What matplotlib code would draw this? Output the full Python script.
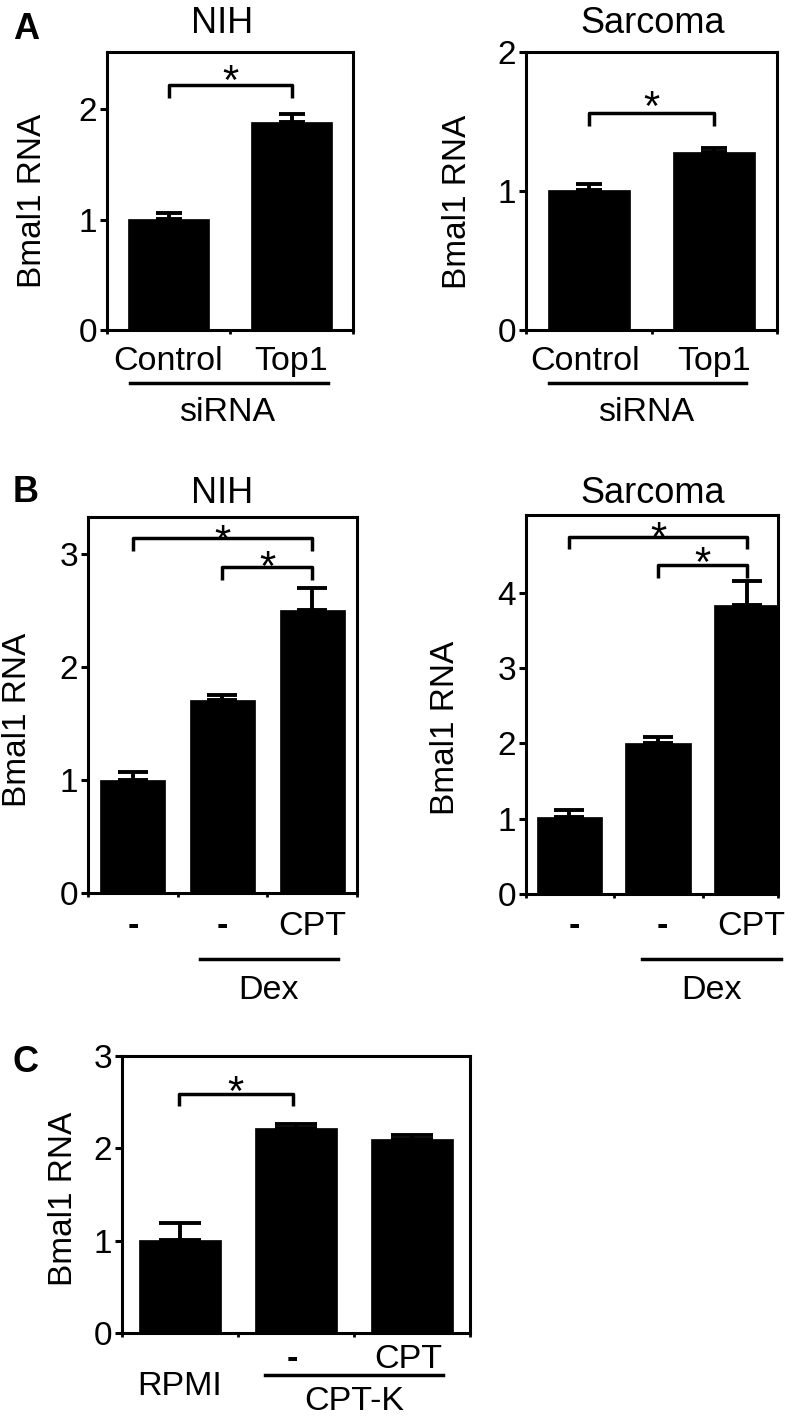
import numpy as np
import matplotlib
matplotlib.use('Agg')
import matplotlib.pyplot as plt
from matplotlib.transforms import blended_transform_factory

plt.rcParams['font.family'] = ['Liberation Sans', 'DejaVu Sans']

W, H = 800, 1416

# Panel A: siRNA knockdown
a_labels = ['Control', 'Top1']
a_nih = [1.01, 1.885]
a_nih_err = [0.05, 0.075]
a_sar = [1.01, 1.28]
a_sar_err = [0.04, 0.03]

# Panel B: Dex +/- CPT
b_labels = ['-', '-', 'CPT']
b_nih = [1.0, 1.705, 2.505]
b_nih_err = [0.075, 0.045, 0.2]
b_sar = [1.02, 2.0, 3.83]
b_sar_err = [0.09, 0.09, 0.33]

# Panel C: CPT-K medium
c_labels = ['RPMI', '-', 'CPT']
c_vals = [1.01, 2.22, 2.10]
c_err = [0.18, 0.04, 0.04]

LBL = 24.5   # category / group labels
TCK = 24     # tick labels
TTL = 26     # panel titles

fig = plt.figure(figsize=(W / 100, H / 100), dpi=100)


def add_box(l, r, t, b):
    return fig.add_axes([l / W, 1 - b / H, (r - l) / W, (b - t) / H])


def fy(ypx):
    return 1 - ypx / H


def bar_panel(ax, vals, errs, width, capsize, ylim, yticks, xlim, xticks):
    x = np.arange(len(vals))
    ax.bar(x, vals, width, color='black', edgecolor='black', linewidth=0.5)
    ax.errorbar(x, vals, yerr=[np.zeros(len(vals)), errs], fmt='none',
                ecolor='black', elinewidth=2.8, capsize=capsize, capthick=2.8)
    ax.set_ylim(*ylim)
    ax.set_yticks(yticks)
    ax.set_xlim(*xlim)
    ax.set_xticks(xticks)
    ax.set_xticklabels([])
    for s in ax.spines.values():
        s.set_linewidth(2.2)
    ax.tick_params(axis='y', direction='out', length=5, width=2.2,
                   labelsize=TCK, pad=2)
    ax.tick_params(axis='x', direction='out', length=3, width=2)


def bracket(ax, x0, x1, ytop, yleg, ystar):
    ax.plot([x0, x0, x1, x1], [yleg, ytop, ytop, yleg], color='black',
            lw=2.5, solid_capstyle='butt', clip_on=False)
    ax.annotate('*', xy=((x0 + x1) / 2, ystar), xytext=(0, -17),
                textcoords='offset points', ha='center', va='baseline',
                fontsize=30, annotation_clip=False)


def under(ax, x, ypx, s, size=LBL, weight='normal'):
    tr = blended_transform_factory(ax.transData, fig.transFigure)
    ax.text(x, fy(ypx), s, transform=tr, ha='center', va='baseline',
            fontsize=size, fontweight=weight, clip_on=False)


def cat(ax, x, ypx, s):
    # the dashes in the reference are heavy
    under(ax, x, ypx, s, weight='bold' if s == '-' else 'normal')


def group_line(ax, x0, x1, ypx):
    tr = blended_transform_factory(ax.transData, fig.transFigure)
    ax.plot([x0, x1], [fy(ypx), fy(ypx)], transform=tr, color='black',
            lw=2.5, clip_on=False)


def ylabel(xpx, ypx):
    fig.text(xpx / W, fy(ypx), 'Bmal1 RNA', rotation=90, ha='center',
             va='center', fontsize=24)


# ---- A, NIH
ax = add_box(107, 353, 52, 330)
bar_panel(ax, a_nih, a_nih_err, 0.66, 9.5, (0, 2.52), [0, 1, 2],
          (-0.5, 1.5), [-0.5, 0.5, 1.5])
bracket(ax, 0, 1, 2.22, 2.10, 2.35)
for i, s in enumerate(a_labels):
    cat(ax, i, 370, s)
group_line(ax, -0.31, 1.30, 383)
under(ax, 0.48, 421, 'siRNA')
ylabel(33, 201)
fig.text(222 / W, fy(33), 'NIH', ha='center', va='baseline', fontsize=TTL)

# ---- A, Sarcoma
ax = add_box(526, 777, 52, 330)
bar_panel(ax, a_sar, a_sar_err, 0.65, 9.5, (0, 2.0), [0, 1, 2],
          (-0.5, 1.5), [-0.5, 0.5, 1.5])
bracket(ax, 0, 1, 1.56, 1.47, 1.68)
for i, s in enumerate(a_labels):
    cat(ax, i - 0.03 if i == 0 else i, 370, s)
group_line(ax, -0.32, 1.25, 383)
under(ax, 0.46, 421, 'siRNA')
ylabel(457, 202)
fig.text(653 / W, fy(33), 'Sarcoma', ha='center', va='baseline', fontsize=TTL)

# ---- B, NIH
ax = add_box(88, 357, 517, 893)
bar_panel(ax, b_nih, b_nih_err, 0.725, 11, (0, 3.33), [0, 1, 2, 3],
          (-0.5, 2.5), [-0.5, 0.5, 1.5, 2.5])
bracket(ax, 0, 2, 3.14, 3.03, 3.21)
bracket(ax, 1, 2, 2.89, 2.77, 2.98)
for i, s in enumerate(b_labels):
    cat(ax, i, 935, s)
group_line(ax, 0.75, 2.29, 959)
under(ax, 1.51, 999, 'Dex')
ylabel(18, 720)
fig.text(222 / W, fy(503), 'NIH', ha='center', va='baseline', fontsize=TTL)

# ---- B, Sarcoma
ax = add_box(526, 778, 515, 894)
bar_panel(ax, b_sar, b_sar_err, 0.74, 11, (0, 5.03), [0, 1, 2, 3, 4],
          (-0.49, 2.35), [-0.49, 0.5, 1.5, 2.35])
bracket(ax, 0, 2, 4.74, 4.58, 4.87)
bracket(ax, 1, 2, 4.37, 4.20, 4.54)
for i, s in enumerate(b_labels):
    cat(ax, i + 0.05, 935, s)
group_line(ax, 0.82, 2.38, 959)
under(ax, 1.6, 999, 'Dex')
ylabel(445, 728)
fig.text(653 / W, fy(503), 'Sarcoma', ha='center', va='baseline', fontsize=TTL)

# ---- C
ax = add_box(122, 470, 1056, 1333)
bar_panel(ax, c_vals, c_err, 0.71, 15, (0, 3.0), [0, 1, 2, 3],
          (-0.5, 2.5), [-0.5, 0.5, 1.5, 2.5])
bracket(ax, -0.01, 0.97, 2.59, 2.46, 2.72)
cat(ax, 0, 1395, c_labels[0])
cat(ax, 0.97, 1368, c_labels[1])
cat(ax, 1.97, 1368, c_labels[2])
group_line(ax, 0.735, 2.27, 1375)
under(ax, 1.5, 1410, 'CPT-K')
ylabel(63, 1199)

# panel letters
for letter, ypx in [('A', 39), ('B', 502), ('C', 1072)]:
    fig.text(13 / W, fy(ypx), letter, ha='left', va='baseline',
             fontsize=26, fontweight='bold')

fig.savefig('out.png', dpi=100)
